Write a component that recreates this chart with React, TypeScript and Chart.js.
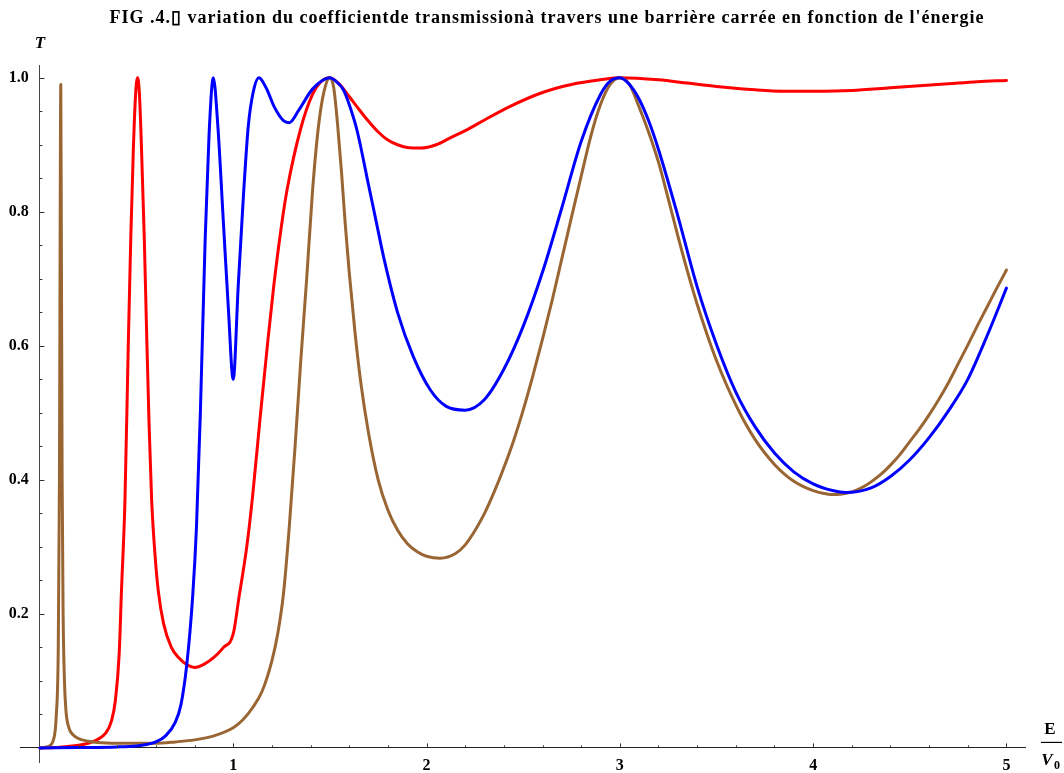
import React, { useEffect, useRef } from 'react';
import { Chart, registerables } from 'chart.js';

Chart.register(...registerables);

const chartTitle =
  "FIG .4.\u25AF variation du coefficientde transmissionà travers une barrière carrée en fonction de l'énergie";
const yAxisLabel = 'T';
const xAxisLabelTop = 'E';
const xAxisLabelBottom = 'V';
const xAxisLabelSub = '0';

const xTickValues = [1, 2, 3, 4, 5];
const yTickValues = [0.2, 0.4, 0.6, 0.8, 1.0];
const xMinorTicks = [0.2, 0.4, 0.6, 0.8, 1.2, 1.4, 1.6, 1.8, 2.2, 2.4, 2.6, 2.8, 3.2, 3.4, 3.6, 3.8, 4.2, 4.4, 4.6, 4.8];
const yMinorTicks = [0.05, 0.1, 0.15, 0.25, 0.3, 0.35, 0.45, 0.5, 0.55, 0.65, 0.7, 0.75, 0.85, 0.9, 0.95];

// Red curve
const redX = [0, 0.1, 0.2, 0.25, 0.3, 0.34, 0.37, 0.39, 0.41, 0.422, 0.44, 0.457, 0.47, 0.483, 0.495, 0.505, 0.515, 0.526, 0.54, 0.552, 0.565, 0.578, 0.595, 0.612, 0.64, 0.68, 0.72, 0.76, 0.8, 0.85, 0.9, 0.95, 1.0, 1.03, 1.07, 1.1, 1.14, 1.18, 1.21, 1.25, 1.28, 1.35, 1.41, 1.45, 1.5, 1.55, 1.6, 1.65, 1.7, 1.75, 1.8, 1.85, 1.9, 1.97, 2.05, 2.12, 2.2, 2.3, 2.43, 2.6, 2.75, 2.9, 3.0, 3.2, 3.35, 3.5, 3.7, 3.85, 4.0, 4.2, 4.4, 4.55, 4.7, 4.85, 5.0];
const redY = [0, 0.001, 0.004, 0.007, 0.013, 0.022, 0.04, 0.07, 0.14, 0.235, 0.37, 0.6, 0.76, 0.89, 0.975, 1.0, 0.975, 0.89, 0.76, 0.62, 0.48, 0.37, 0.29, 0.235, 0.185, 0.15, 0.134, 0.124, 0.12, 0.125, 0.135, 0.15, 0.17, 0.225, 0.3, 0.375, 0.495, 0.61, 0.69, 0.78, 0.835, 0.925, 0.975, 0.993, 1.0, 0.99, 0.972, 0.953, 0.935, 0.919, 0.907, 0.9, 0.896, 0.895, 0.9, 0.91, 0.921, 0.937, 0.957, 0.978, 0.99, 0.997, 1.0, 0.997, 0.992, 0.987, 0.982, 0.98, 0.98, 0.981, 0.985, 0.988, 0.991, 0.994, 0.996];

// Blue curve
const blueX = [0, 0.2, 0.4, 0.5, 0.55, 0.6, 0.65, 0.7, 0.73, 0.76, 0.79, 0.81, 0.83, 0.855, 0.875, 0.897, 0.92, 0.95, 0.975, 1.0, 1.026, 1.052, 1.078, 1.103, 1.133, 1.17, 1.215, 1.26, 1.29, 1.34, 1.41, 1.5, 1.53, 1.57, 1.6, 1.64, 1.7, 1.74, 1.78, 1.85, 1.93, 2.02, 2.1, 2.2, 2.3, 2.4, 2.5, 2.6, 2.7, 2.8, 2.9, 2.95, 3.0, 3.05, 3.1, 3.15, 3.2, 3.3, 3.4, 3.5, 3.6, 3.7, 3.8, 3.9, 4.0, 4.1, 4.17, 4.3, 4.4, 4.5, 4.6, 4.7, 4.8, 4.9, 5.0];
const blueY = [0, 0.0005, 0.0015, 0.003, 0.005, 0.009, 0.018, 0.038, 0.065, 0.125, 0.225, 0.33, 0.5, 0.76, 0.915, 1.0, 0.93, 0.78, 0.655, 0.55, 0.69, 0.82, 0.928, 0.978, 1.0, 0.985, 0.955, 0.936, 0.933, 0.952, 0.983, 1.0, 0.995, 0.982, 0.96, 0.922, 0.84, 0.785, 0.73, 0.65, 0.585, 0.534, 0.51, 0.504, 0.52, 0.565, 0.629, 0.71, 0.806, 0.905, 0.975, 0.995, 1.0, 0.99, 0.968, 0.935, 0.893, 0.794, 0.688, 0.602, 0.531, 0.479, 0.44, 0.412, 0.394, 0.384, 0.381, 0.388, 0.405, 0.43, 0.463, 0.503, 0.55, 0.615, 0.686];

// Brown curve
const brownX = [0, 0.04, 0.07, 0.085, 0.095, 0.101, 0.105, 0.108, 0.111, 0.115, 0.12, 0.127, 0.135, 0.15, 0.17, 0.2, 0.25, 0.3, 0.4, 0.5, 0.6, 0.7, 0.8, 0.9, 1.0, 1.05, 1.1, 1.15, 1.2, 1.23, 1.26, 1.29, 1.32, 1.35, 1.38, 1.41, 1.44, 1.47, 1.5, 1.52, 1.54, 1.56, 1.58, 1.6, 1.63, 1.66, 1.7, 1.75, 1.8, 1.85, 1.9, 1.95, 2.0, 2.07, 2.15, 2.2, 2.25, 2.3, 2.35, 2.4, 2.45, 2.5, 2.55, 2.6, 2.65, 2.7, 2.75, 2.8, 2.85, 2.9, 2.95, 3.0, 3.05, 3.1, 3.15, 3.2, 3.25, 3.3, 3.35, 3.4, 3.45, 3.5, 3.55, 3.6, 3.65, 3.7, 3.75, 3.8, 3.85, 3.9, 3.95, 4.0, 4.05, 4.1, 4.15, 4.2, 4.25, 4.3, 4.35, 4.4, 4.45, 4.5, 4.55, 4.6, 4.65, 4.7, 4.75, 4.8, 4.85, 4.9, 4.95, 5.0];
const brownY = [0, 0.002, 0.012, 0.05, 0.15, 0.4, 0.8, 0.99, 0.75, 0.4, 0.2, 0.1, 0.055, 0.03, 0.02, 0.014, 0.01, 0.008, 0.007, 0.007, 0.007, 0.009, 0.012, 0.018, 0.03, 0.042, 0.06, 0.085, 0.13, 0.17, 0.23, 0.33, 0.45, 0.58, 0.7, 0.83, 0.925, 0.98, 1.0, 0.985, 0.93, 0.86, 0.78, 0.71, 0.62, 0.545, 0.47, 0.4, 0.355, 0.325, 0.305, 0.293, 0.286, 0.283, 0.29, 0.303, 0.324, 0.35, 0.382, 0.418, 0.458, 0.504, 0.555, 0.61, 0.668, 0.73, 0.792, 0.853, 0.913, 0.96, 0.99, 1.0, 0.99, 0.956, 0.918, 0.874, 0.82, 0.764, 0.711, 0.662, 0.618, 0.578, 0.543, 0.512, 0.484, 0.46, 0.44, 0.423, 0.409, 0.398, 0.39, 0.384, 0.38, 0.378, 0.379, 0.382, 0.388, 0.397, 0.408, 0.422, 0.438, 0.457, 0.476, 0.497, 0.52, 0.545, 0.573, 0.601, 0.63, 0.658, 0.686, 0.713];

const serif = '"Liberation Serif", "Times New Roman", serif';

const toPoints = (xs: number[], ys: number[]) => xs.map((x, i) => ({ x, y: ys[i] }));

export default function App() {
  const canvasRef = useRef<HTMLCanvasElement>(null);

  useEffect(() => {
    const canvas = canvasRef.current;
    if (!canvas) return;

    const decorPlugin = {
      id: 'mmaDecor',
      afterDraw(chart: any) {
        const { ctx, scales } = chart;
        const xs = scales.x;
        const ys = scales.y;
        const x0 = xs.getPixelForValue(0);
        const y0 = ys.getPixelForValue(0);
        ctx.save();
        ctx.strokeStyle = '#333';
        ctx.lineWidth = 1;
        ctx.beginPath();
        xTickValues.forEach((v) => {
          const px = Math.round(xs.getPixelForValue(v)) + 0.5;
          ctx.moveTo(px, y0);
          ctx.lineTo(px, y0 - 4.5);
        });
        xMinorTicks.forEach((v) => {
          const px = Math.round(xs.getPixelForValue(v)) + 0.5;
          ctx.moveTo(px, y0);
          ctx.lineTo(px, y0 - 2.5);
        });
        yTickValues.forEach((v) => {
          const py = Math.round(ys.getPixelForValue(v)) + 0.5;
          ctx.moveTo(x0, py);
          ctx.lineTo(x0 + 4.5, py);
        });
        yMinorTicks.forEach((v) => {
          const py = Math.round(ys.getPixelForValue(v)) + 0.5;
          ctx.moveTo(x0, py);
          ctx.lineTo(x0 + 2.5, py);
        });
        ctx.stroke();

        ctx.fillStyle = '#000';
        // title
        ctx.font = `bold 18px ${serif}`;
        ctx.textAlign = 'center';
        ctx.textBaseline = 'middle';
        try { (ctx as any).letterSpacing = '1px'; } catch (e) { /* ignore */ }
        ctx.fillText(chartTitle, 547, 18);
        try { (ctx as any).letterSpacing = '0px'; } catch (e) { /* ignore */ }

        // y label
        ctx.font = `italic bold 17px ${serif}`;
        ctx.fillText(yAxisLabel, x0, 44);

        // x label fraction E / V0
        ctx.font = `bold 17px ${serif}`;
        ctx.fillText(xAxisLabelTop, 1050, y0 - 18);
        ctx.beginPath();
        ctx.strokeStyle = '#000';
        ctx.lineWidth = 1.2;
        ctx.moveTo(1041, y0 - 5.5);
        ctx.lineTo(1062, y0 - 5.5);
        ctx.stroke();
        ctx.font = `italic bold 17px ${serif}`;
        ctx.fillText(xAxisLabelBottom, 1047, y0 + 13);
        ctx.font = `bold 12px ${serif}`;
        ctx.fillText(xAxisLabelSub, 1057, y0 + 18);
        ctx.restore();
      },
    };

    const lineStyle = (color: string) => ({
      borderColor: color,
      backgroundColor: color,
      borderWidth: 3,
      pointRadius: 0,
      fill: false,
      cubicInterpolationMode: 'monotone' as const,
      borderJoinStyle: 'round' as const,
      borderCapStyle: 'round' as const,
    });

    const chart = new Chart(canvas, {
      type: 'line',
      data: {
        datasets: [
          { label: 'blue', data: toPoints(blueX, blueY), ...lineStyle('#0000ff') },
          { label: 'brown', data: toPoints(brownX, brownY), ...lineStyle('#996633') },
          { label: 'red', data: toPoints(redX, redY), ...lineStyle('#ff0000') },
        ],
      },
      options: {
        animation: false,
        responsive: false,
        devicePixelRatio: 1,
        layout: { padding: { left: 20, right: 39, top: 65, bottom: 11 } },
        plugins: {
          legend: { display: false },
          tooltip: { enabled: false },
          title: { display: false },
        },
        scales: {
          x: {
            type: 'linear',
            min: -0.103,
            max: 5.096,
            position: { y: 0 } as any,
            grid: { display: false },
            border: { display: true, color: '#222', width: 1 },
            ticks: {
              color: '#000',
              padding: 0,
              font: { family: serif, size: 16, weight: 'bold' },
              callback: (v: any) => String(v),
            },
            afterBuildTicks: (scale: any) => {
              scale.ticks = xTickValues.map((v) => ({ value: v }));
            },
          },
          y: {
            type: 'linear',
            min: -0.021,
            max: 1.019,
            position: { x: 0 } as any,
            grid: { display: false },
            border: { display: true, color: '#444', width: 1 },
            ticks: {
              color: '#000',
              padding: 0,
              font: { family: serif, size: 16, weight: 'bold' },
              callback: (v: any) => Number(v).toFixed(1) + '\u2002\u2009',
            },
            afterBuildTicks: (scale: any) => {
              scale.ticks = yTickValues.map((v) => ({ value: v }));
            },
          },
        },
      },
      plugins: [decorPlugin],
    });

    return () => chart.destroy();
  }, []);

  return (
    <div style={{ position: 'fixed', left: 0, top: 0, width: 1064, height: 773, background: '#fff' }}>
      <canvas ref={canvasRef} width={1064} height={773} style={{ width: 1064, height: 773, display: 'block' }} />
    </div>
  );
}
